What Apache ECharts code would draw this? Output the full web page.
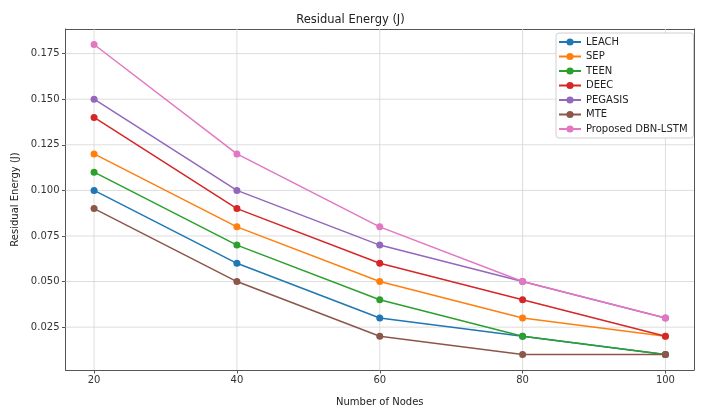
<!DOCTYPE html>
<html><head><meta charset="utf-8">
<script src="https://cdn.jsdelivr.net/npm/echarts@6/dist/echarts.min.js"></script>
<style>html,body{margin:0;padding:0;background:#fff}#c{width:701px;height:412px}</style>
</head><body><div id="c"></div>
<script>
const nodes = [20, 40, 60, 80, 100];
const leach = [0.10, 0.06, 0.03, 0.02, 0.01];
const sep = [0.12, 0.08, 0.05, 0.03, 0.02];
const teen = [0.11, 0.07, 0.04, 0.02, 0.01];
const deec = [0.14, 0.09, 0.06, 0.04, 0.02];
const pegasis = [0.15, 0.10, 0.07, 0.05, 0.03];
const mte = [0.09, 0.05, 0.02, 0.01, 0.01];
const proposed = [0.18, 0.12, 0.08, 0.05, 0.03];
const seriesNames = ['LEACH','SEP','TEEN','DEEC','PEGASIS','MTE','Proposed DBN-LSTM'];
const seriesData = [leach, sep, teen, deec, pegasis, mte, proposed];
const colors = ['#1f77b4','#ff7f0e','#2ca02c','#d62728','#9467bd','#8c564b','#e377c2'];
const xTicks = [20, 40, 60, 80, 100];
const yTicks = [0.025, 0.050, 0.075, 0.100, 0.125, 0.150, 0.175];
const xMin = 16, xMax = 104, yMin = 0.0015, yMax = 0.1885;

const font = 'DejaVu Sans';
const chart = echarts.init(document.getElementById('c'));
const gridStyle = {color: '#d4d4d4', width: 0.8};
const series = [];
xTicks.forEach(v => series.push({type: 'line', silent: true, z: 1, symbol: 'none',
  data: [[v, yMin], [v, yMax]], lineStyle: gridStyle, itemStyle: {color: '#d4d4d4'}}));
yTicks.forEach(v => series.push({type: 'line', silent: true, z: 1, symbol: 'none',
  data: [[xMin, v], [xMax, v]], lineStyle: gridStyle, itemStyle: {color: '#d4d4d4'}}));
seriesNames.forEach((n, i) => series.push({
  name: n, type: 'line', z: 3,
  data: nodes.map((x, j) => [x, seriesData[i][j]]),
  symbol: 'circle', symbolSize: 7,
  lineStyle: {width: 1.5, color: colors[i]},
  itemStyle: {color: colors[i]},
  emphasis: {disabled: true}
}));
const spine = {show: true, onZero: false, lineStyle: {color: '#555', width: 1}};
chart.setOption({
  animation: false,
  title: {text: 'Residual Energy (J)', left: 'center', top: 9,
    textStyle: {fontFamily: font, fontSize: 11.5, fontWeight: 'normal', color: '#222'}},
  grid: {left: 65.5, right: 7, top: 29, bottom: 30.5, containLabel: false},
  legend: {
    orient: 'vertical', left: 556, top: 33,
    data: seriesNames,
    backgroundColor: '#fff', borderColor: '#d0d0d0', borderWidth: 1, borderRadius: 3,
    padding: [4, 6, 4, 2], itemGap: 4.5, itemWidth: 22, itemHeight: 9,
    textStyle: {fontFamily: font, fontSize: 10, color: '#222'}
  },
  xAxis: [{
    type: 'value', min: xMin, max: xMax,
    name: 'Number of Nodes', nameLocation: 'middle', nameGap: 27,
    nameTextStyle: {fontFamily: font, fontSize: 10, color: '#222'},
    axisLine: spine,
    axisTick: {show: true, length: 3.5, customValues: xTicks, lineStyle: {color: '#555'}},
    axisLabel: {customValues: xTicks, fontFamily: font, fontSize: 10, color: '#333', margin: 5},
    splitLine: {show: false}
  }, {
    type: 'value', position: 'top', min: xMin, max: xMax,
    axisLine: spine, axisTick: {show: false}, axisLabel: {show: false}, splitLine: {show: false}
  }],
  yAxis: [{
    type: 'value', min: yMin, max: yMax,
    name: 'Residual Energy (J)', nameLocation: 'middle', nameGap: 37,
    nameTextStyle: {fontFamily: font, fontSize: 10, color: '#222'},
    axisLine: spine,
    axisTick: {show: true, length: 3.5, customValues: yTicks, lineStyle: {color: '#555'}},
    axisLabel: {customValues: yTicks, fontFamily: font, fontSize: 10, color: '#333', margin: 6,
      formatter: v => v.toFixed(3)},
    splitLine: {show: false}
  }, {
    type: 'value', position: 'right', min: yMin, max: yMax,
    axisLine: spine, axisTick: {show: false}, axisLabel: {show: false}, splitLine: {show: false}
  }],
  series: series
});
</script></body></html>
